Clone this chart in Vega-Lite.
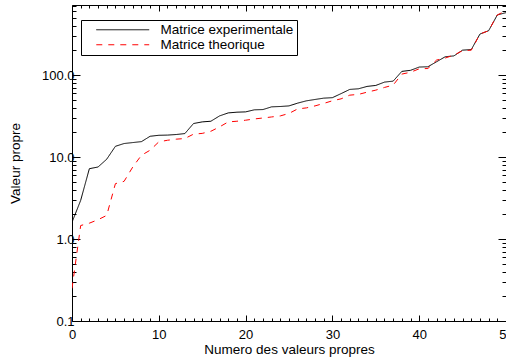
{
  "$schema": "https://vega.github.io/schema/vega-lite/v6.json",
  "width": 434,
  "height": 316,
  "autosize": "none",
  "padding": {"left": 72, "top": 5, "right": 0, "bottom": 40},
  "background": "white",
  "config": {
    "view": {"stroke": null},
    "font": "Liberation Sans",
    "axis": {
      "domainColor": "black",
      "tickColor": "black",
      "labelColor": "black",
      "titleColor": "black",
      "grid": false,
      "labelFont": "Liberation Sans",
      "titleFont": "Liberation Sans",
      "labelFontSize": 13,
      "titleFontSize": 13.5,
      "titleFontWeight": "normal"
    }
  },
  "data": {
    "values": [
      {"n": 0, "v": 1.6, "serie": "Matrice experimentale"},
      {"n": 1, "v": 2.96, "serie": "Matrice experimentale"},
      {"n": 2, "v": 7.2, "serie": "Matrice experimentale"},
      {"n": 3, "v": 7.55, "serie": "Matrice experimentale"},
      {"n": 4, "v": 9.4, "serie": "Matrice experimentale"},
      {"n": 5, "v": 13.5, "serie": "Matrice experimentale"},
      {"n": 6, "v": 14.6, "serie": "Matrice experimentale"},
      {"n": 7, "v": 15.0, "serie": "Matrice experimentale"},
      {"n": 8, "v": 15.4, "serie": "Matrice experimentale"},
      {"n": 9, "v": 17.9, "serie": "Matrice experimentale"},
      {"n": 10, "v": 18.4, "serie": "Matrice experimentale"},
      {"n": 11, "v": 18.5, "serie": "Matrice experimentale"},
      {"n": 12, "v": 18.8, "serie": "Matrice experimentale"},
      {"n": 13, "v": 19.3, "serie": "Matrice experimentale"},
      {"n": 14, "v": 25.6, "serie": "Matrice experimentale"},
      {"n": 15, "v": 26.8, "serie": "Matrice experimentale"},
      {"n": 16, "v": 27.3, "serie": "Matrice experimentale"},
      {"n": 17, "v": 31.7, "serie": "Matrice experimentale"},
      {"n": 18, "v": 34.5, "serie": "Matrice experimentale"},
      {"n": 19, "v": 35.2, "serie": "Matrice experimentale"},
      {"n": 20, "v": 35.5, "serie": "Matrice experimentale"},
      {"n": 21, "v": 37.6, "serie": "Matrice experimentale"},
      {"n": 22, "v": 37.9, "serie": "Matrice experimentale"},
      {"n": 23, "v": 40.9, "serie": "Matrice experimentale"},
      {"n": 24, "v": 41.3, "serie": "Matrice experimentale"},
      {"n": 25, "v": 42.0, "serie": "Matrice experimentale"},
      {"n": 26, "v": 45.4, "serie": "Matrice experimentale"},
      {"n": 27, "v": 48.4, "serie": "Matrice experimentale"},
      {"n": 28, "v": 50.3, "serie": "Matrice experimentale"},
      {"n": 29, "v": 52.2, "serie": "Matrice experimentale"},
      {"n": 30, "v": 52.9, "serie": "Matrice experimentale"},
      {"n": 31, "v": 59.3, "serie": "Matrice experimentale"},
      {"n": 32, "v": 66.7, "serie": "Matrice experimentale"},
      {"n": 33, "v": 67.9, "serie": "Matrice experimentale"},
      {"n": 34, "v": 72.6, "serie": "Matrice experimentale"},
      {"n": 35, "v": 74.6, "serie": "Matrice experimentale"},
      {"n": 36, "v": 81.9, "serie": "Matrice experimentale"},
      {"n": 37, "v": 84.2, "serie": "Matrice experimentale"},
      {"n": 38, "v": 110.7, "serie": "Matrice experimentale"},
      {"n": 39, "v": 114, "serie": "Matrice experimentale"},
      {"n": 40, "v": 125, "serie": "Matrice experimentale"},
      {"n": 41, "v": 126, "serie": "Matrice experimentale"},
      {"n": 42, "v": 145, "serie": "Matrice experimentale"},
      {"n": 43, "v": 167, "serie": "Matrice experimentale"},
      {"n": 44, "v": 171, "serie": "Matrice experimentale"},
      {"n": 45, "v": 201, "serie": "Matrice experimentale"},
      {"n": 46, "v": 204, "serie": "Matrice experimentale"},
      {"n": 47, "v": 316, "serie": "Matrice experimentale"},
      {"n": 48, "v": 347, "serie": "Matrice experimentale"},
      {"n": 49, "v": 540, "serie": "Matrice experimentale"},
      {"n": 50, "v": 576, "serie": "Matrice experimentale"},
      {"n": 0, "v": 0.25, "serie": "Matrice theorique"},
      {"n": 1, "v": 1.46, "serie": "Matrice theorique"},
      {"n": 2, "v": 1.56, "serie": "Matrice theorique"},
      {"n": 3, "v": 1.72, "serie": "Matrice theorique"},
      {"n": 4, "v": 1.94, "serie": "Matrice theorique"},
      {"n": 5, "v": 4.73, "serie": "Matrice theorique"},
      {"n": 6, "v": 5.05, "serie": "Matrice theorique"},
      {"n": 7, "v": 7.55, "serie": "Matrice theorique"},
      {"n": 8, "v": 10.5, "serie": "Matrice theorique"},
      {"n": 9, "v": 12.1, "serie": "Matrice theorique"},
      {"n": 10, "v": 15.3, "serie": "Matrice theorique"},
      {"n": 11, "v": 16.0, "serie": "Matrice theorique"},
      {"n": 12, "v": 16.5, "serie": "Matrice theorique"},
      {"n": 13, "v": 16.8, "serie": "Matrice theorique"},
      {"n": 14, "v": 19.0, "serie": "Matrice theorique"},
      {"n": 15, "v": 19.4, "serie": "Matrice theorique"},
      {"n": 16, "v": 20.6, "serie": "Matrice theorique"},
      {"n": 17, "v": 23.3, "serie": "Matrice theorique"},
      {"n": 18, "v": 26.8, "serie": "Matrice theorique"},
      {"n": 19, "v": 27.3, "serie": "Matrice theorique"},
      {"n": 20, "v": 28.1, "serie": "Matrice theorique"},
      {"n": 21, "v": 29.1, "serie": "Matrice theorique"},
      {"n": 22, "v": 29.9, "serie": "Matrice theorique"},
      {"n": 23, "v": 30.8, "serie": "Matrice theorique"},
      {"n": 24, "v": 31.7, "serie": "Matrice theorique"},
      {"n": 25, "v": 34.0, "serie": "Matrice theorique"},
      {"n": 26, "v": 38.6, "serie": "Matrice theorique"},
      {"n": 27, "v": 39.7, "serie": "Matrice theorique"},
      {"n": 28, "v": 42.0, "serie": "Matrice theorique"},
      {"n": 29, "v": 45.0, "serie": "Matrice theorique"},
      {"n": 30, "v": 48.5, "serie": "Matrice theorique"},
      {"n": 31, "v": 51.2, "serie": "Matrice theorique"},
      {"n": 32, "v": 56.8, "serie": "Matrice theorique"},
      {"n": 33, "v": 58.0, "serie": "Matrice theorique"},
      {"n": 34, "v": 61.8, "serie": "Matrice theorique"},
      {"n": 35, "v": 65.4, "serie": "Matrice theorique"},
      {"n": 36, "v": 70.5, "serie": "Matrice theorique"},
      {"n": 37, "v": 75.3, "serie": "Matrice theorique"},
      {"n": 38, "v": 102.6, "serie": "Matrice theorique"},
      {"n": 39, "v": 108, "serie": "Matrice theorique"},
      {"n": 40, "v": 119, "serie": "Matrice theorique"},
      {"n": 41, "v": 120, "serie": "Matrice theorique"},
      {"n": 42, "v": 152, "serie": "Matrice theorique"},
      {"n": 43, "v": 161, "serie": "Matrice theorique"},
      {"n": 44, "v": 175, "serie": "Matrice theorique"},
      {"n": 45, "v": 198, "serie": "Matrice theorique"},
      {"n": 46, "v": 201, "serie": "Matrice theorique"},
      {"n": 47, "v": 316, "serie": "Matrice theorique"},
      {"n": 48, "v": 347, "serie": "Matrice theorique"},
      {"n": 49, "v": 540, "serie": "Matrice theorique"},
      {"n": 50, "v": 609, "serie": "Matrice theorique"}
    ]
  },
  "layer": [
    {
      "mark": {"type": "line", "strokeWidth": 1, "clip": true},
      "encoding": {
        "x": {
          "field": "n", "type": "quantitative",
          "scale": {"domain": [0, 50], "nice": false, "zero": false},
          "axis": {
            "orient": "bottom",
            "title": "Numero des valeurs propres",
            "values": [0,1,2,3,4,5,6,7,8,9,10,11,12,13,14,15,16,17,18,19,20,21,22,23,24,25,26,27,28,29,30,31,32,33,34,35,36,37,38,39,40,41,42,43,44,45,46,47,48,49,50],
            "labelExpr": "datum.value % 10 == 0 ? format(datum.value, 'd') : ''",
            "tickSize": {"condition": {"test": "datum.value % 10 == 0", "value": -6}, "value": -3},
            "labelPadding": 13,
            "labelFlush": false,
            "labelOverlap": false,
            "titlePadding": -2
          }
        },
        "y": {
          "field": "v", "type": "quantitative",
          "scale": {"type": "log", "domain": [0.1, 714], "nice": false},
          "axis": {
            "orient": "left",
            "title": "Valeur propre",
            "values": [0.1,0.2,0.3,0.4,0.5,0.6,0.7,0.8,0.9,1,2,3,4,5,6,7,8,9,10,20,30,40,50,60,70,80,90,100,200,300,400,500,600,700],
            "labelExpr": "indexof([0.1, 1, 10, 100], datum.value) >= 0 ? format(datum.value, '.1f') : ''",
            "tickSize": {"condition": {"test": "indexof([0.1, 1, 10, 100], datum.value) >= 0", "value": -8}, "value": -4},
            "labelPadding": 6,
            "labelOverlap": false,
            "labelFlush": false,
            "titlePadding": 19
          }
        },
        "color": {
          "field": "serie", "type": "nominal",
          "scale": {"domain": ["Matrice experimentale", "Matrice theorique"], "range": ["black", "red"]},
          "legend": {
            "title": null, "orient": "none", "legendX": 9, "legendY": 15,
            "strokeColor": "black", "fillColor": "white", "padding": 3,
            "symbolType": "M-5,0H5", "symbolSize": 112, "symbolStrokeWidth": 1,
            "symbolOffset": 32, "labelOffset": 31, "rowPadding": 0,
            "labelFontSize": 13.5, "labelFont": "Liberation Sans", "labelColor": "black"
          }
        },
        "strokeDash": {
          "field": "serie", "type": "nominal",
          "scale": {"domain": ["Matrice experimentale", "Matrice theorique"], "range": [[1, 0], [6, 6]]},
          "legend": {
            "title": null, "orient": "none", "legendX": 9, "legendY": 15,
            "strokeColor": "black", "fillColor": "white", "padding": 3,
            "symbolType": "M-5,0H5", "symbolSize": 112, "symbolStrokeWidth": 1,
            "symbolOffset": 32, "labelOffset": 31, "rowPadding": 0,
            "labelFontSize": 13.5, "labelFont": "Liberation Sans", "labelColor": "black"
          }
        }
      }
    },
    {
      "mark": {"type": "line", "opacity": 0},
      "encoding": {
        "x": {
          "field": "n", "type": "quantitative",
          "axis": {
            "orient": "top", "title": null, "labels": false,
            "values": [0,1,2,3,4,5,6,7,8,9,10,11,12,13,14,15,16,17,18,19,20,21,22,23,24,25,26,27,28,29,30,31,32,33,34,35,36,37,38,39,40,41,42,43,44,45,46,47,48,49,50],
            "tickSize": {"condition": {"test": "datum.value % 10 == 0", "value": -6}, "value": -3}
          }
        },
        "y": {
          "field": "v", "type": "quantitative",
          "axis": {
            "orient": "right", "title": null, "labels": false,
            "values": [0.1,0.2,0.3,0.4,0.5,0.6,0.7,0.8,0.9,1,2,3,4,5,6,7,8,9,10,20,30,40,50,60,70,80,90,100,200,300,400,500,600,700],
            "tickSize": {"condition": {"test": "indexof([0.1, 1, 10, 100], datum.value) >= 0", "value": -8}, "value": -4}
          }
        },
        "detail": {"field": "serie", "type": "nominal"}
      }
    }
  ],
  "resolve": {"axis": {"x": "independent", "y": "independent"}}
}
